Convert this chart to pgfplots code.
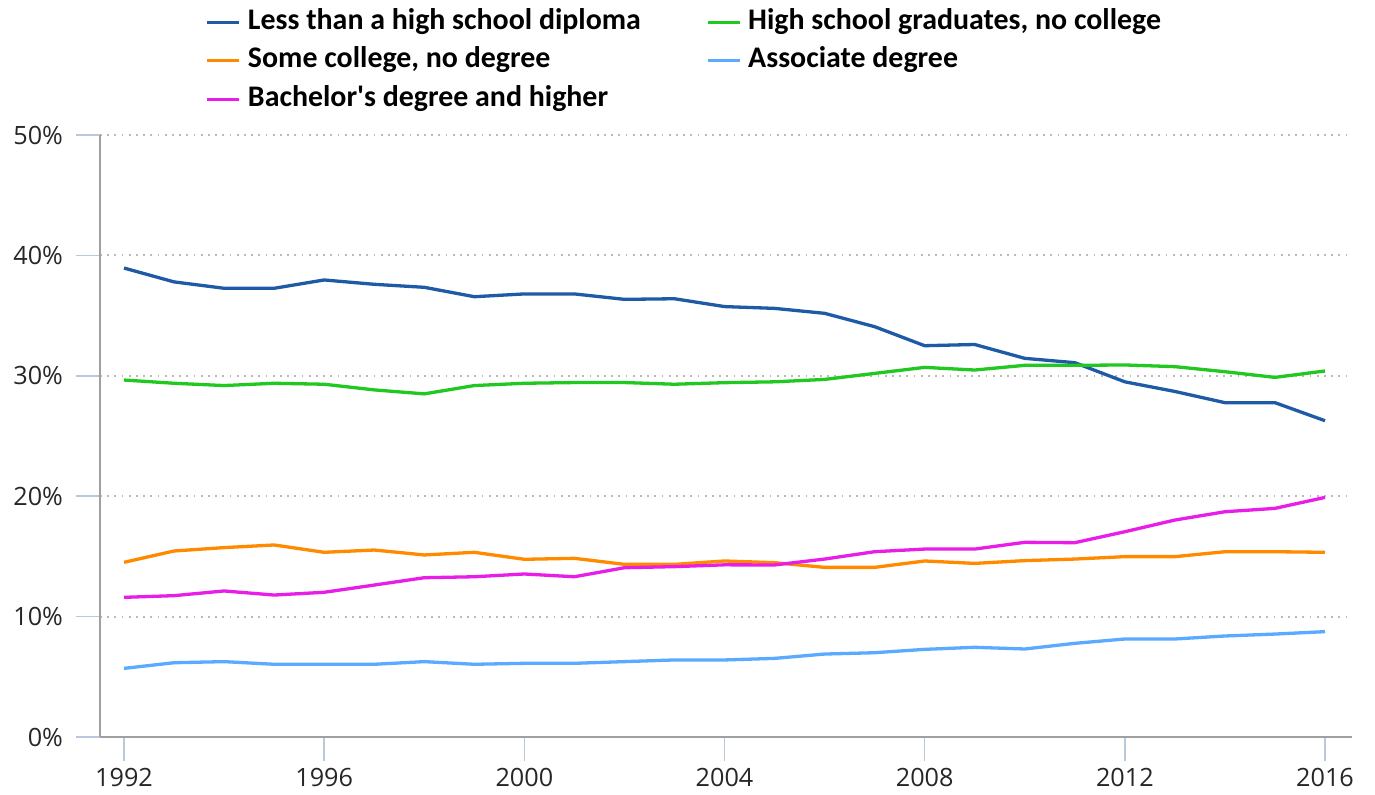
\documentclass[border=0pt]{standalone}
\usepackage{fontspec}
\setmainfont{Open Sans}
\newfontfamily\legfont{Carlito}
\usepackage{pgfplots}
\pgfplotsset{compat=1.18}
\definecolor{cBlue}{RGB}{30,90,165}
\definecolor{cGreen}{RGB}{34,200,34}
\definecolor{cOrange}{RGB}{255,138,0}
\definecolor{cLight}{RGB}{90,170,255}
\definecolor{cMag}{RGB}{232,30,232}
\definecolor{cTick}{RGB}{185,200,220}
\definecolor{cAxis}{RGB}{160,160,160}
\pgfplotstableread{
year lesshs hsgrad somecol assoc bach
1992 38.95 29.65 14.51 5.70 11.60
1993 37.80 29.38 15.45 6.17 11.74
1994 37.27 29.19 15.73 6.26 12.13
1995 37.27 29.38 15.95 6.04 11.79
1996 37.96 29.30 15.34 6.04 12.02
1997 37.60 28.83 15.53 6.04 12.62
1998 37.35 28.50 15.12 6.26 13.23
1999 36.57 29.19 15.34 6.04 13.31
2000 36.80 29.38 14.76 6.12 13.54
2001 36.80 29.44 14.84 6.12 13.31
2002 36.35 29.44 14.34 6.26 14.06
2003 36.40 29.30 14.34 6.40 14.15
2004 35.75 29.43 14.62 6.40 14.30
2005 35.60 29.50 14.48 6.53 14.29
2006 35.19 29.70 14.09 6.89 14.78
2007 34.08 30.20 14.09 7.00 15.39
2008 32.50 30.70 14.62 7.28 15.61
2009 32.60 30.48 14.42 7.45 15.61
2010 31.45 30.87 14.65 7.31 16.17
2011 31.09 30.87 14.78 7.78 16.14
2012 29.50 30.90 14.98 8.14 17.05
2013 28.70 30.76 14.98 8.14 18.02
2014 27.77 30.34 15.39 8.39 18.71
2015 27.77 29.87 15.39 8.55 18.99
2016 26.27 30.40 15.34 8.75 19.90
}\datatable
\begin{document}
\begin{tikzpicture}
\path[use as bounding box] (-50pt,-28.5pt) rectangle (637.5pt,368.5pt);
\begin{axis}[
  at={(0pt,0pt)}, anchor=south west,
  scale only axis, width=626pt, height=301pt,
  xmin=1991.52, xmax=2016.54, ymin=0, ymax=50,
  axis x line*=bottom, axis y line*=left,
  axis line style={draw=cAxis, line width=1.2pt},
  xtick={1992,1996,...,2016}, ytick={0,10,...,50},
  x tick label style={/pgf/number format/1000 sep={}},
  y tick label style={xshift=-3pt},
  yticklabel={\pgfmathprintnumber{\tick}\%},
  tick align=outside, major tick length=12pt,
  tick style={draw=cTick, line width=0.8pt},
  ymajorgrids,
  grid style={draw=gray!55, line width=1pt, dash pattern=on 0.9pt off 2.7pt},
  tick label style={font=\fontsize{12.6}{14}\selectfont, text=black!85},
  /pgf/number format/assume math mode=true,
  legend columns=2,
  legend cell align=left,
  legend image code/.code={\draw[#1, line width=1.6pt] (0pt,0pt) -- (16pt,0pt);},
  legend style={draw=none, fill=none, at={(axis description cs:0.0845,1.209)},
    anchor=north west, inner sep=0pt, outer sep=0pt, row sep=6.25pt,
    nodes={inner sep=0pt, text height=10pt, text depth=3pt},
    /tikz/every odd column/.style={column sep=3.5pt},
    font=\legfont\bfseries\fontsize{14.95}{16}\selectfont},
  every axis plot/.append style={line width=1.65pt, line join=round},
]
\addplot[cBlue] table[x=year,y=lesshs]{\datatable};
\addlegendentry{\makebox[229pt][l]{Less than a high school diploma}}
\addplot[cGreen] table[x=year,y=hsgrad]{\datatable};
\addlegendentry{High school graduates, no college}
\addplot[cOrange] table[x=year,y=somecol]{\datatable};
\addlegendentry{\makebox[229pt][l]{Some college, no degree}}
\addplot[cLight] table[x=year,y=assoc]{\datatable};
\addlegendentry{Associate degree}
\addplot[cMag] table[x=year,y=bach]{\datatable};
\addlegendentry{\makebox[229pt][l]{Bachelor's degree and higher}}
\end{axis}
\end{tikzpicture}
\end{document}
